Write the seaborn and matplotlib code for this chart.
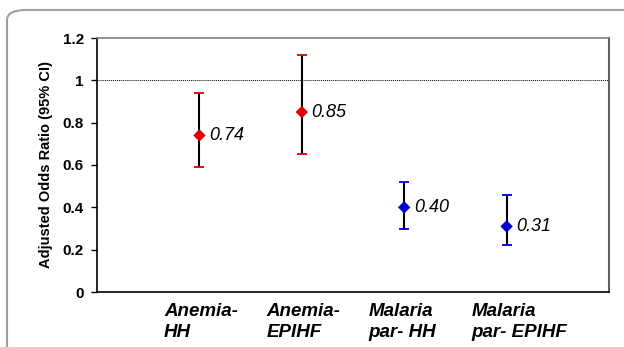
import numpy as np
import pandas as pd
import matplotlib
matplotlib.use("Agg")
import matplotlib.pyplot as plt
from matplotlib.patches import FancyBboxPatch
import seaborn as sns

# data
groups = ["Anemia-\nHH", "Anemia-\nEPIHF", "Malaria\npar- HH", "Malaria\npar- EPIHF"]
odds = [0.74, 0.85, 0.40, 0.31]
lower = [0.59, 0.65, 0.30, 0.22]
upper = [0.94, 1.12, 0.52, 0.46]
kind = ["anemia", "anemia", "malaria", "malaria"]
point_labels = ["0.74", "0.85", "0.40", "0.31"]
yticks = [0, 0.2, 0.4, 0.6, 0.8, 1.0, 1.2]
ytick_labels = ["0", "0.2", "0.4", "0.6", "0.8", "1", "1.2"]

colors = {"anemia": "#e00000", "malaria": "#0000d0"}

df = pd.DataFrame({"group": groups, "pos": np.arange(1, len(groups) + 1),
                   "odds": odds, "lower": lower, "upper": upper, "kind": kind})

sns.set_style("ticks")
plt.rcParams["font.family"] = ["Liberation Sans", "DejaVu Sans"]
plt.rcParams["text.color"] = "black"
plt.rcParams["ytick.color"] = "black"
plt.rcParams["axes.labelcolor"] = "black"

fig = plt.figure(figsize=(6.24, 3.47), dpi=100)
ax = fig.add_axes([97 / 624, 55 / 347, 512 / 624, 254 / 347])

# rounded outer frame (cut off at right and bottom like the original)
frame = FancyBboxPatch((7 / 624, -0.3), 1.2, (347 - 10) / 347 + 0.3,
                       boxstyle="round,pad=0,rounding_size=0.03",
                       transform=fig.transFigure, facecolor="none",
                       edgecolor="#a0a0a0", linewidth=1.5, zorder=0)
fig.patches.append(frame)

# reference line at 1
ax.axhline(1.0, color="black", linewidth=0.7, linestyle=(0, (1, 1)), zorder=1)

# error bars: black stems, coloured caps
for row in df.to_dict("records"):
    err = [[row["odds"] - row["lower"]], [row["upper"] - row["odds"]]]
    _, caps, _ = ax.errorbar(row["pos"], row["odds"], yerr=err, fmt="none",
                             ecolor="black", elinewidth=1.5, capsize=3.6,
                             capthick=1.3, zorder=2)
    for c in caps:
        c.set_markeredgecolor(colors[row["kind"]])
        c.set_color(colors[row["kind"]])

sns.scatterplot(data=df, x="pos", y="odds", hue="kind", palette=colors,
                marker="D", s=40, edgecolor="none", legend=False, ax=ax, zorder=3)

for row, lab in zip(df.to_dict("records"), point_labels):
    ax.annotate(lab, (row["pos"], row["odds"]), xytext=(7, 0),
                textcoords="offset points", ha="left", va="center",
                fontsize=13, fontstyle="italic")

# category labels, left-aligned a bit left of each point
for row in df.to_dict("records"):
    ax.annotate(row["group"], (row["pos"], 0), xycoords=("data", "axes fraction"),
                xytext=(-25.5, -8), textcoords="offset points", ha="left", va="top",
                fontsize=13.5, fontweight="bold", fontstyle="italic",
                linespacing=1.3, annotation_clip=False)

ax.set_xlim(0, 5)
ax.set_ylim(0, 1.2)
ax.set_yticks(yticks)
ax.set_yticklabels(ytick_labels, fontsize=11, fontweight="bold")
ax.set_xticks([])
ax.tick_params(axis="y", length=4.5, width=1, direction="out", pad=5,
               color="black", labelcolor="black")

ax.set_xlabel("")
ax.set_ylabel("Adjusted Odds Ratio (95% CI)", fontsize=10.5, fontweight="bold",
              labelpad=7)

for side in ["left", "bottom"]:
    ax.spines[side].set_color("black")
    ax.spines[side].set_linewidth(1.2)
ax.spines["top"].set_color("#808080")
ax.spines["right"].set_color("#606060")
ax.spines["top"].set_linewidth(1.2)
ax.spines["right"].set_linewidth(1.5)

fig.savefig("out.png", dpi=100)
